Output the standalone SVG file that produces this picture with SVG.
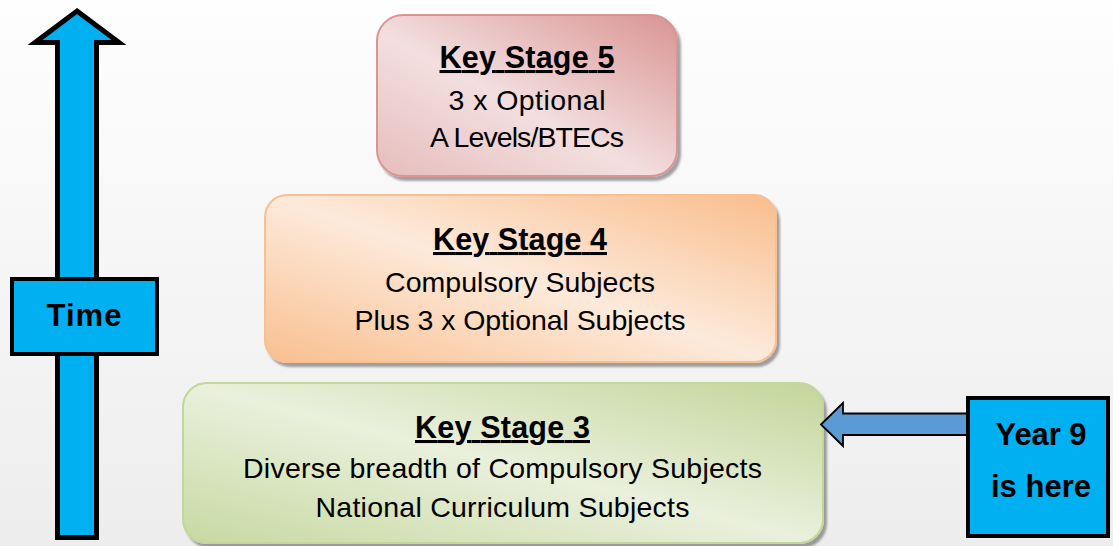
<svg xmlns="http://www.w3.org/2000/svg" width="1113" height="546" viewBox="0 0 1113 546">
  <defs>
    <linearGradient id="bg" x1="0" y1="0" x2="0" y2="1">
      <stop offset="0" stop-color="#FEFEFE"/>
      <stop offset="1" stop-color="#EDEDED"/>
    </linearGradient>
    <linearGradient id="gRed" x1="0" y1="1" x2="1" y2="0">
      <stop offset="0" stop-color="#E6BDBC"/>
      <stop offset="0.45" stop-color="#F3DFDF"/>
      <stop offset="1" stop-color="#D99493"/>
    </linearGradient>
    <linearGradient id="gOrange" x1="0" y1="1" x2="1" y2="0">
      <stop offset="0" stop-color="#F9BF8F"/>
      <stop offset="0.5" stop-color="#FDEADB"/>
      <stop offset="1" stop-color="#F9BD8C"/>
    </linearGradient>
    <linearGradient id="gGreen" x1="0" y1="1" x2="1" y2="0">
      <stop offset="0" stop-color="#C7D9A2"/>
      <stop offset="0.5" stop-color="#EAF0DC"/>
      <stop offset="1" stop-color="#C3D59A"/>
    </linearGradient>
    <filter id="shadow" x="-5%" y="-5%" width="115%" height="120%">
      <feDropShadow dx="3" dy="4" stdDeviation="1.2" flood-color="#000" flood-opacity="0.35"/>
    </filter>
  </defs>
  <style>
    .t { font-family: "Liberation Sans", Arial, sans-serif; font-size: 28.5px; fill: #000; text-anchor: middle; }
    .h { font-weight: bold; text-decoration: underline; font-size: 30.5px; }
    .b { font-family: "Liberation Sans", Arial, sans-serif; font-weight: bold; font-size: 31px; fill: #000; text-anchor: middle; }
    .blue { fill: #00B0F0; stroke: #000; stroke-width: 4; }
  </style>
  <rect x="0" y="0" width="1113" height="546" fill="url(#bg)"/>

  <g id="time-arrow">
    <path d="M77,11 L119,42.5 L96.5,42.5 L96.5,537.5 L57.5,537.5 L57.5,42.5 L35,42.5 Z" fill="#00B0F0" stroke="#000" stroke-width="5" stroke-linejoin="miter"/>
  </g>
  <g id="time-label">
    <rect class="blue" x="12" y="279" width="145" height="75"/>
    <text class="b" x="84" y="326" textLength="75">Time</text>
  </g>

  <g id="ks5">
    <rect x="377" y="15" width="300" height="161" rx="26" fill="url(#gRed)" stroke="#D99594" stroke-width="2" filter="url(#shadow)"/>
    <text class="t h" x="527" y="68" textLength="175">Key Stage 5</text>
    <text class="t" x="527" y="110" textLength="157">3 x Optional</text>
    <text class="t" x="527" y="147" textLength="194">A Levels/BTECs</text>
  </g>

  <g id="ks4">
    <rect x="265" y="195" width="511" height="167" rx="22" fill="url(#gOrange)" stroke="#F9BF8F" stroke-width="2" filter="url(#shadow)"/>
    <text class="t h" x="520" y="250" textLength="174">Key Stage 4</text>
    <text class="t" x="520" y="292" textLength="270">Compulsory Subjects</text>
    <text class="t" x="520" y="330" textLength="331">Plus 3 x Optional Subjects</text>
  </g>

  <g id="ks3">
    <rect x="183" y="383" width="640" height="160" rx="24" fill="url(#gGreen)" stroke="#C3D69B" stroke-width="2" filter="url(#shadow)"/>
    <text class="t h" x="502.5" y="438" textLength="175">Key Stage 3</text>
    <text class="t" x="502.5" y="478" textLength="519">Diverse breadth of Compulsory Subjects</text>
    <text class="t" x="502.5" y="517" textLength="374">National Curriculum Subjects</text>
  </g>

  <g id="connectors">
    <path d="M821,424.5 L843,403 L843,413.5 L968,413.5 L968,435 L843,435 L843,446 Z" fill="#5B9BD5" stroke="#000" stroke-width="1.8" stroke-linejoin="miter"/>
  </g>

  <g id="year9">
    <rect class="blue" x="968" y="398" width="140" height="138"/>
    <text class="b" x="1041" y="445" textLength="91">Year 9</text>
    <text class="b" x="1041" y="497" textLength="100">is here</text>
  </g>
</svg>
